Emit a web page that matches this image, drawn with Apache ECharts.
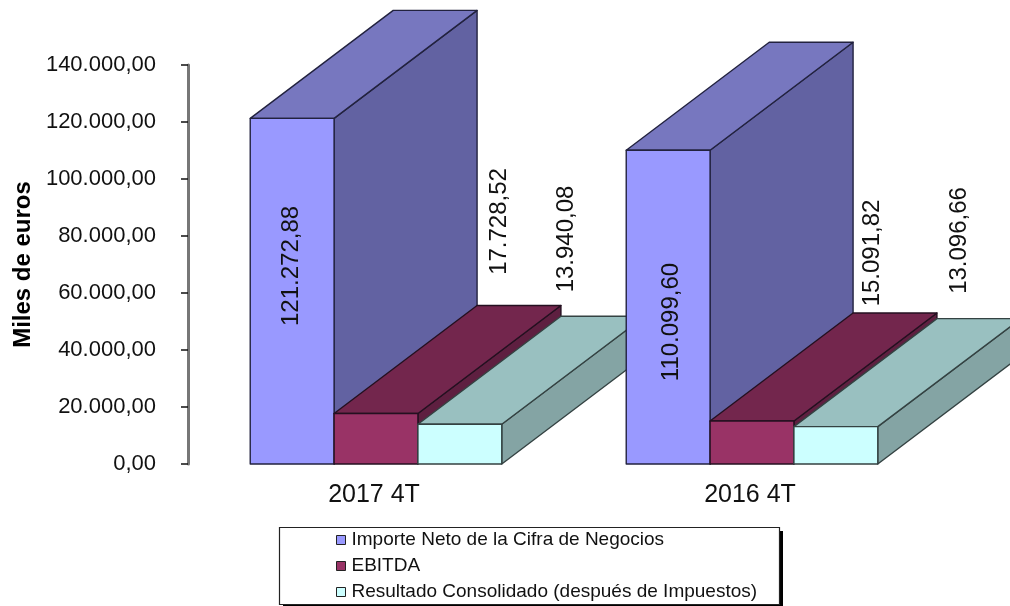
<!DOCTYPE html>
<html><head><meta charset="utf-8">
<style>html,body{margin:0;padding:0;background:#fff}#c{width:1010px;height:606px}</style>
<script src="https://cdn.jsdelivr.net/npm/echarts@6/dist/echarts.min.js"></script>
</head><body><div id="c"></div>
<script>
const categories = ['2017 4T', '2016 4T'];
const importeNeto = [121272.88, 110099.60];
const ebitda = [17728.52, 15091.82];
const resultado = [13940.08, 13096.66];
const seriesNames = ['Importe Neto de la Cifra de Negocios', 'EBITDA', 'Resultado Consolidado (después de Impuestos)'];
const yTicks = {min: 0, max: 140000, interval: 20000};

const FONT = '"Liberation Sans", Arial, sans-serif';
const DEPTH_X = 143, DEPTH_Y = -108, BAR_RATIO = 0.223;
const palette = [
  {front: '#9999FF', top: '#7777BF', side: '#6262A2', line: '#22223F'},
  {front: '#993366', top: '#73264D', side: '#5E1F40', line: '#241020'},
  {front: '#CCFFFF', top: '#99C0C0', side: '#84A4A4', line: '#344242'}
];
const labelShift = [
  [[41.3, 147.6], [44.8, 171.8]],
  [[165.5, -192], [162, -168]],
  [[148, -185.3], [165.5, -186.2]]
];
const fmt = v => {
  const p = v.toFixed(2).split('.');
  return p[0].replace(/\B(?=(\d{3})+(?!\d))/g, '.') + ',' + p[1];
};

function renderBar(s) {
  return function (params, api) {
    const i = params.dataIndex;
    const base = api.coord([api.value(0), 0]);
    const top = api.coord([api.value(0), api.value(1)]);
    const w = api.size([1, 0])[0] * BAR_RATIO;
    const x0 = base[0] + (s - 1.5) * w, x1 = x0 + w;
    const y0 = base[1], y1 = top[1];
    const c = palette[s];
    const z = i * 10 + s;
    const st = fill => ({fill, stroke: c.line, lineWidth: 1.4, lineJoin: 'round'});
    const poly = (pts, fill) => ({type: 'polygon', z2: z, shape: {points: pts}, style: st(fill)});
    const sh = labelShift[s][i];
    return {type: 'group', children: [
      poly([[x1, y0], [x1 + DEPTH_X, y0 + DEPTH_Y], [x1 + DEPTH_X, y1 + DEPTH_Y], [x1, y1]], c.side),
      poly([[x0, y1], [x0 + DEPTH_X, y1 + DEPTH_Y], [x1 + DEPTH_X, y1 + DEPTH_Y], [x1, y1]], c.top),
      poly([[x0, y0], [x1, y0], [x1, y1], [x0, y1]], c.front),
      {type: 'text', z2: 100, x: x0 + sh[0], y: y1 + sh[1], rotation: Math.PI / 2,
        style: {text: fmt(api.value(1)), font: '24px ' + FONT, fill: '#111', textAlign: 'center', textVerticalAlign: 'middle'}}
    ]};
  };
}
const values = [importeNeto, ebitda, resultado];
const chart = echarts.init(document.getElementById('c'));
chart.setOption({
  animation: false,
  backgroundColor: '#fff',
  grid: {left: 188, right: 70, top: 65, bottom: 142, outerBoundsMode: 'none'},
  xAxis: {type: 'category', data: categories,
    axisLine: {show: false}, axisTick: {show: false},
    axisLabel: {color: '#111', fontFamily: FONT, fontSize: 25, margin: 19, padding: [0, 4, 0, 0]}},
  yAxis: {type: 'value', min: yTicks.min, max: yTicks.max, interval: yTicks.interval,
    name: 'Miles de euros', nameLocation: 'middle', nameGap: 153,
    nameTextStyle: {color: '#000', fontFamily: FONT, fontSize: 24, fontWeight: 'bold'},
    axisLine: {show: true, lineStyle: {color: '#777', width: 3}},
    axisTick: {show: true, length: 7, lineStyle: {color: '#111', width: 1.5}},
    splitLine: {show: false},
    axisLabel: {color: '#111', fontFamily: FONT, fontSize: 22, margin: 32, formatter: v => fmt(v)}},
  legend: {orient: 'vertical', left: 336, top: 530, z: 10, itemGap: 6, itemWidth: 9, itemHeight: 9, icon: 'rect',
    align: 'left', padding: 0,
    textStyle: {color: '#111', fontFamily: FONT, fontSize: 19, padding: [0, 0, 0, 1], height: 20, lineHeight: 20},
    data: seriesNames.map((name, s) => ({name, itemStyle: {color: palette[s].front, borderColor: '#222', borderWidth: 1}}))},
  graphic: [
    {type: 'rect', z: 1, shape: {x: 283, y: 531, width: 500, height: 78}, style: {fill: '#000'}},
    {type: 'rect', z: 2, shape: {x: 279.5, y: 527.5, width: 500, height: 77}, style: {fill: '#fff', stroke: '#222', lineWidth: 1.2}}
  ],
  series: seriesNames.map((name, s) => ({
    type: 'custom', name, coordinateSystem: 'cartesian2d', clip: false,
    itemStyle: {color: palette[s].front},
    encode: {x: 0, y: 1},
    data: categories.map((c, i) => [i, values[s][i]]),
    renderItem: renderBar(s)
  }))
});
</script></body></html>
